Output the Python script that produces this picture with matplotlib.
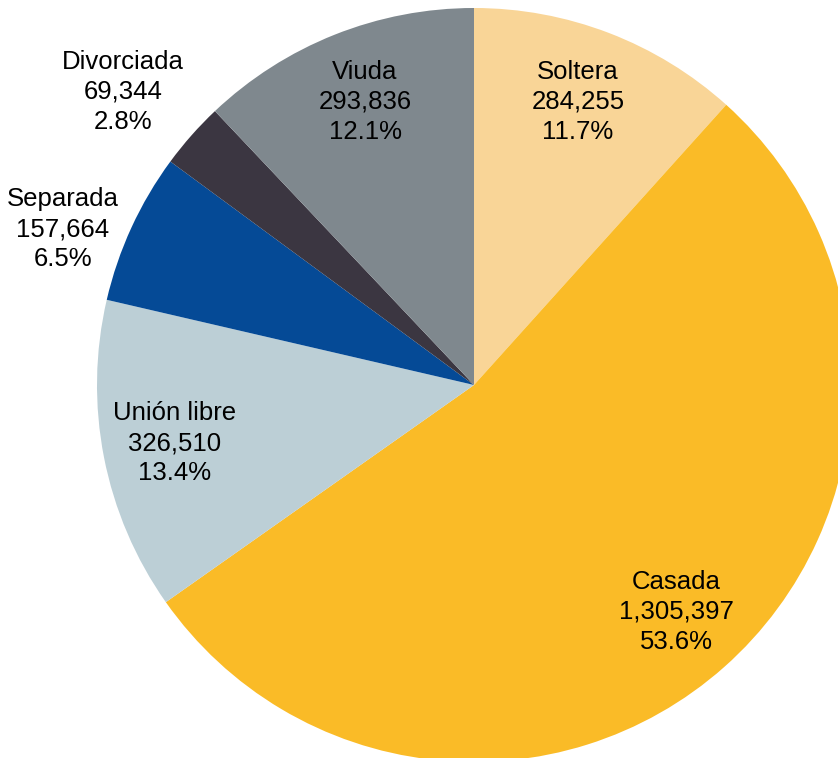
import matplotlib.pyplot as plt

plt.rcParams['font.family'] = ['Liberation Sans', 'DejaVu Sans']

# ----------- 数据 -----------
categorias = ['Soltera', 'Casada', 'Unión libre', 'Separada', 'Divorciada', 'Viuda']
valores = [284255, 1305397, 326510, 157664, 69344, 293836]
colores = ['#F9D597', '#FABB27', '#BCCFD6', '#054A96', '#3B3641', '#7F888E']

W, H = 838, 758
CX, CY, R = 474, H - 385, 377
# centro de cada etiqueta (pixeles, y desde arriba)
pos_etq = [(578, 102), (676, 612), (175, 443), (63, 229), (123, 92), (365, 102)]

fig = plt.figure(figsize=(W / 100, H / 100), dpi=100)
ax = fig.add_axes([0, 0, 1, 1])

wedges, _ = ax.pie(valores, colors=colores, startangle=90, counterclock=False,
                   center=(CX, CY), radius=R, frame=True,
                   wedgeprops=dict(linewidth=0))

total = sum(valores)
for cat, v, (x, y) in zip(categorias, valores, pos_etq):
    ax.text(x, H - y, f"{cat}\n{v:,}\n{100 * v / total:.1f}%",
            ha='center', va='center', fontsize=18.5, linespacing=1.32, color='black')

ax.set_xlim(0, W)
ax.set_ylim(0, H)
ax.set_aspect('equal')
ax.axis('off')

fig.savefig('out.png', dpi=100)
